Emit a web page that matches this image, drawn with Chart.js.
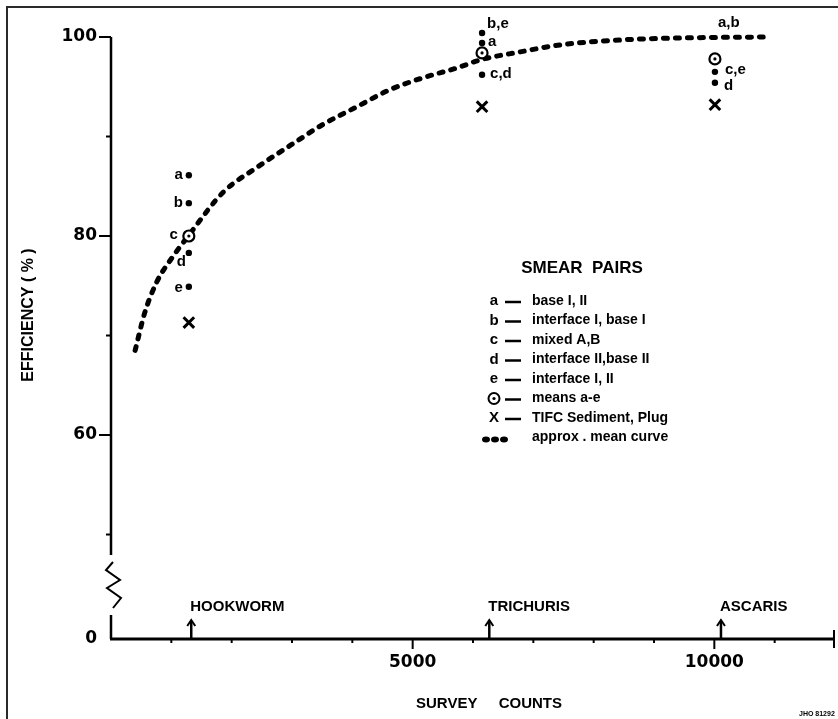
<!DOCTYPE html>
<html>
<head>
<meta charset="utf-8">
<script src="https://cdn.jsdelivr.net/npm/chart.js@4"></script>
<style>
html, body { margin: 0; padding: 0; background: #fff; }
</style>
</head>
<body>
<canvas id="chart" width="838" height="719"></canvas>
<script>
// values
const curveCounts = [400, 560, 760, 1010, 1280, 1860, 2420, 2970, 3510, 4080, 4620, 5170, 5740, 6120, 6780, 7440, 8440, 9430, 10810];
const curveEfficiency = [68.5, 72.3, 75.4, 77.8, 80.0, 84.4, 86.9, 89.1, 91.2, 93.0, 94.7, 95.9, 96.9, 97.7, 98.5, 99.2, 99.7, 99.9, 100.0];

const speciesNames = ['HOOKWORM', 'TRICHURIS', 'ASCARIS'];
const speciesCounts = [1330, 6270, 10110];

const pairCounts = [1290, 1290, 1290, 1290, 1290, 6150, 6150, 6150, 10010, 10010, 10010];
const pairEfficiency = [86.1, 83.3, 80.0, 78.3, 74.9, 100.4, 99.4, 96.2, 100.7, 96.5, 95.4];
const pairLabels = ['a', 'b', 'c', 'd', 'e', 'b,e', 'a', 'c,d', 'a,b', 'c,e', 'd'];

const meanCounts = [1290, 6150, 10010];
const meanEfficiency = [80.0, 98.4, 97.8];

const tifcCounts = [1290, 6150, 10010];
const tifcEfficiency = [71.3, 93.0, 93.2];

const yMajorTicks = [60, 80, 100];
const yMinorTicks = [50, 70, 90];
const yBreakLabel = '0';
const xMajorTicks = [5000, 10000];
const xMinorTicks = [1000, 2000, 3000, 4000, 6000, 7000, 8000, 9000, 11000];
const xAxisEnd = 12000;

const legendTitle = 'SMEAR  PAIRS';
const legendKeys = ['a', 'b', 'c', 'd', 'e', 'mean', 'X', 'curve'];
const legendTexts = ['base I, II', 'interface I, base I', 'mixed A,B', 'interface II,base II', 'interface I, II', 'means a-e', 'TIFC Sediment, Plug', 'approx . mean curve'];

// where each pair letter sits next to its dot: dx, dy, align
const labelPlacement = [
    [-6, 0, 'right'], [-6, 0, 'right'], [-11, -1, 'right'], [-3, 9, 'right'], [-6, 1, 'right'],
    [5, -9, 'left'], [6, -1, 'left'], [8, -1, 'left'],
    [3, -7, 'left'], [10, -2, 'left'], [9, 3, 'left']
];

const yBottom = 39.5; // value sitting on the x axis (below the break)
const boldFont = 'bold 15px "Liberation Sans", Arial, sans-serif';
const numFont = { family: '"DejaVu Sans", sans-serif', size: 17, weight: 'bold' };

function toPoints(xs, ys) {
    return xs.map((x, i) => ({ x: x, y: ys[i] }));
}

function line(ctx, x1, y1, x2, y2) {
    ctx.beginPath();
    ctx.moveTo(x1, y1);
    ctx.lineTo(x2, y2);
    ctx.stroke();
}

const figurePlugin = {
    id: 'figure',
    afterDraw(chart) {
        const { ctx, chartArea: area } = chart;
        const xs = chart.scales.x;
        const ys = chart.scales.y;
        const left = area.left;
        const bottom = area.bottom;

        ctx.save();
        ctx.lineCap = 'butt';

        // frame
        ctx.strokeStyle = '#2a2a2a';
        ctx.lineWidth = 2;
        ctx.beginPath();
        ctx.moveTo(7, chart.height + 5);
        ctx.lineTo(7, 7);
        ctx.lineTo(chart.width + 5, 7);
        ctx.stroke();

        ctx.strokeStyle = '#000';
        ctx.fillStyle = '#000';

        // y axis with break
        ctx.lineWidth = 2.5;
        line(ctx, left, area.top, left, bottom - 84);
        line(ctx, left, bottom - 24, left, bottom);
        ctx.lineWidth = 2;
        ctx.beginPath();
        ctx.moveTo(left + 2, bottom - 77);
        ctx.lineTo(left - 5, bottom - 69);
        ctx.lineTo(left + 9, bottom - 59);
        ctx.lineTo(left - 4, bottom - 51);
        ctx.lineTo(left + 10, bottom - 41);
        ctx.lineTo(left + 2, bottom - 31);
        ctx.stroke();
        yMajorTicks.forEach(v => {
            const py = ys.getPixelForValue(v);
            line(ctx, left - 12, py, left, py);
        });
        yMinorTicks.forEach(v => {
            const py = ys.getPixelForValue(v);
            line(ctx, left - 5, py, left, py);
        });

        // x axis
        ctx.lineWidth = 3;
        line(ctx, left - 1, bottom, area.right, bottom);
        ctx.lineWidth = 2;
        xMinorTicks.forEach(v => {
            const px = xs.getPixelForValue(v);
            line(ctx, px, bottom, px, bottom + 4);
        });
        xMajorTicks.forEach(v => {
            const px = xs.getPixelForValue(v);
            line(ctx, px, bottom, px, bottom + 10);
        });
        const endX = xs.getPixelForValue(xAxisEnd) - 1;
        line(ctx, endX, bottom - 9, endX, bottom + 9);

        // species arrows
        ctx.font = boldFont;
        ctx.textAlign = 'left';
        ctx.textBaseline = 'middle';
        speciesNames.forEach((name, i) => {
            const px = xs.getPixelForValue(speciesCounts[i]);
            ctx.lineWidth = 2.5;
            line(ctx, px, bottom, px, bottom - 18);
            ctx.lineWidth = 2;
            ctx.beginPath();
            ctx.moveTo(px - 4, bottom - 13);
            ctx.lineTo(px, bottom - 19);
            ctx.lineTo(px + 4, bottom - 13);
            ctx.stroke();
            ctx.fillText(name, px - 1, bottom - 32);
        });

        // axis titles
        ctx.font = boldFont;
        ctx.textAlign = 'left';
        ctx.fillText('SURVEY', 416, 704);
        ctx.textAlign = 'right';
        ctx.fillText('COUNTS', 562, 704);

        ctx.save();
        ctx.translate(29, 315);
        ctx.rotate(-Math.PI / 2);
        ctx.textAlign = 'center';
        ctx.font = 'bold 16px "Liberation Sans", Arial, sans-serif';
        ctx.fillText('EFFICIENCY ( % )', 0, 0);
        ctx.restore();

        // pair letters next to the dots
        const pairMeta = chart.getDatasetMeta(2);
        ctx.font = boldFont;
        pairMeta.data.forEach((pt, i) => {
            const [dx, dy, align] = labelPlacement[i];
            ctx.textAlign = align;
            ctx.fillText(pairLabels[i], pt.x + dx, pt.y + dy);
        });

        // legend
        ctx.textAlign = 'center';
        ctx.font = 'bold 17px "Liberation Sans", Arial, sans-serif';
        ctx.fillText(legendTitle, 582, 268);
        legendKeys.forEach((key, i) => {
            const ly = 301 + i * 19.5;
            ctx.font = boldFont;
            ctx.textAlign = 'center';
            if (key === 'mean') {
                ctx.lineWidth = 2;
                ctx.beginPath();
                ctx.arc(494, ly, 5.5, 0, Math.PI * 2);
                ctx.stroke();
                ctx.beginPath();
                ctx.arc(494, ly, 1.6, 0, Math.PI * 2);
                ctx.fill();
            } else if (key === 'curve') {
                [486, 495, 504].forEach(cx => {
                    ctx.beginPath();
                    ctx.ellipse(cx, ly + 2, 4, 3, 0, 0, Math.PI * 2);
                    ctx.fill();
                });
            } else {
                ctx.fillText(key, 494, ly);
            }
            if (key !== 'curve') {
                ctx.lineWidth = 2.5;
                line(ctx, 505, ly + 1, 521, ly + 1);
            }
            ctx.textAlign = 'left';
            ctx.font = 'bold 14px "Liberation Sans", Arial, sans-serif';
            ctx.fillText(legendTexts[i], 532, ly);
        });

        // drawing number
        ctx.font = 'bold 7px "Liberation Sans", Arial, sans-serif';
        ctx.textAlign = 'left';
        ctx.fillText('JHO 81292', 799, 714);

        ctx.restore();
    }
};

new Chart(document.getElementById('chart'), {
    type: 'scatter',
    data: {
        datasets: [
            {
                label: 'means centre',
                data: toPoints(meanCounts, meanEfficiency),
                pointRadius: 1.6,
                backgroundColor: '#000',
                borderWidth: 0,
                clip: false
            },
            {
                label: 'means a-e',
                data: toPoints(meanCounts, meanEfficiency),
                pointStyle: 'circle',
                pointRadius: 5.5,
                borderWidth: 2.2,
                borderColor: '#000',
                backgroundColor: '#fff',
                clip: false
            },
            {
                label: 'smear pairs',
                data: toPoints(pairCounts, pairEfficiency),
                pointRadius: 3.2,
                backgroundColor: '#000',
                borderWidth: 0,
                clip: false
            },
            {
                label: 'TIFC Sediment, Plug',
                data: toPoints(tifcCounts, tifcEfficiency),
                pointStyle: 'crossRot',
                pointRadius: 7.5,
                borderWidth: 3,
                borderColor: '#000',
                clip: false
            },
            {
                label: 'approx. mean curve',
                data: toPoints(curveCounts, curveEfficiency),
                showLine: true,
                pointRadius: 0,
                borderColor: '#000',
                borderWidth: 5,
                borderDash: [4, 8],
                borderCapStyle: 'round',
                cubicInterpolationMode: 'monotone',
                clip: false
            }
        ]
    },
    options: {
        responsive: false,
        animation: false,
        events: [],
        layout: { autoPadding: false, padding: { top: 37, right: 3, left: 0, bottom: 0 } },
        plugins: {
            legend: { display: false },
            tooltip: { enabled: false }
        },
        scales: {
            x: {
                type: 'linear',
                min: 0,
                max: xAxisEnd,
                afterBuildTicks: s => { s.ticks = xMajorTicks.map(v => ({ value: v })); },
                afterFit: s => {
                    s.height = 80;
                    s.paddingLeft = 0;
                    s.paddingRight = 0;
                },
                grid: { display: false, drawTicks: false },
                border: { display: false },
                ticks: {
                    autoSkip: false,
                    maxRotation: 0,
                    padding: 13,
                    color: '#000',
                    font: numFont,
                    callback: v => String(v)
                }
            },
            y: {
                type: 'linear',
                min: yBottom,
                max: 100,
                afterBuildTicks: s => { s.ticks = [yBottom].concat(yMajorTicks).map(v => ({ value: v })); },
                afterFit: s => {
                    s.width = 111;
                    s.paddingTop = 0;
                    s.paddingBottom = 0;
                },
                grid: { display: false, drawTicks: false },
                border: { display: false },
                ticks: {
                    autoSkip: false,
                    padding: 14,
                    color: '#000',
                    font: numFont,
                    callback: v => (v === yBottom ? yBreakLabel : String(v))
                }
            }
        }
    },
    plugins: [figurePlugin]
});
</script>
</body>
</html>
